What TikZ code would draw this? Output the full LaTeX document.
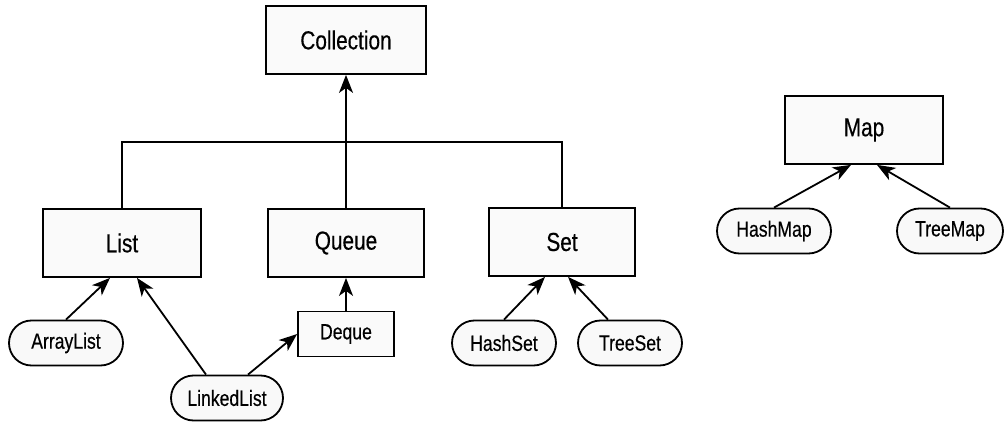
\documentclass[tikz,border=0pt]{standalone}
\usepackage{fontspec}
\setmainfont{Liberation Sans}[FakeStretch=0.8,FakeBold=0.4]
\usetikzlibrary{shapes.misc,arrows.meta}

\begin{document}
\begin{tikzpicture}[
    x=1pt,y=-1pt,
    iface/.style={draw,line width=1.8pt,fill=black!2,minimum height=68pt,
        inner sep=0pt,font=\fontsize{26}{30}\selectfont},
    impl/.style={draw,line width=1.8pt,rounded rectangle,fill=gray!5,
        minimum height=45pt,inner sep=0pt,font=\fontsize{22}{26}\selectfont},
    link/.style={line width=1.8pt,-{Stealth[length=18pt,width=14pt,inset=5pt]}},
    bus/.style={line width=1.8pt}
]
\useasboundingbox (0,0) rectangle (1004,422);

% -------------------------------------------------
% Interfaces
% -------------------------------------------------

\node[iface,minimum width=160pt] (Collection) at (346,40)  {Collection};
\node[iface,minimum width=158pt] (List)       at (122,243) {List};
\node[iface,minimum width=156pt] (Queue)      at (346,243) {Queue};
\node[iface,minimum width=146pt] (Set)        at (562,242) {Set};
\node[iface,minimum width=158pt] (Map)        at (864,130) {Map};
\node[iface,minimum width=96pt,minimum height=45pt,
      font=\fontsize{22}{26}\selectfont] (Deque) at (346,334) {Deque};

% -------------------------------------------------
% Implementations
% -------------------------------------------------

\node[impl,minimum width=114pt] (ArrayList)  at (66,343)  {ArrayList};
\node[impl,minimum width=112pt] (LinkedList) at (227,398) {LinkedList};
\node[impl,minimum width=104pt] (HashSet)    at (504,343) {HashSet};
\node[impl,minimum width=104pt] (TreeSet)    at (630,343) {TreeSet};
\node[impl,minimum width=114pt] (HashMap)    at (774,231) {HashMap};
\node[impl,minimum width=106pt] (TreeMap)    at (950,231) {TreeMap};

% -------------------------------------------------
% Collection und ihre Unterinterfaces
% -------------------------------------------------

\coordinate (Join) at (346,142);
\draw[bus] (List.north) |- (Join) -| (Set.north);
\draw[link] (Queue.north) -- (Collection.south);
\draw[link] (Deque.north) -- (Queue.south);

% -------------------------------------------------
% Klassen
% -------------------------------------------------

\draw[link] (ArrayList.north) -- ([xshift=-12pt]List.south);
\draw[link] ([xshift=-21pt]LinkedList.north) -- ([xshift=15pt]List.south);
\draw[link] ([xshift=21pt]LinkedList.north) -- (Deque.west);
\draw[link] (HashSet.north) -- ([xshift=-17pt]Set.south);
\draw[link] ([xshift=-22pt]TreeSet.north) -- ([xshift=6pt]Set.south);
\draw[link] (HashMap.north) -- ([xshift=-13pt]Map.south);
\draw[link] (TreeMap.north) -- ([xshift=13pt]Map.south);
\end{tikzpicture}
\end{document}
